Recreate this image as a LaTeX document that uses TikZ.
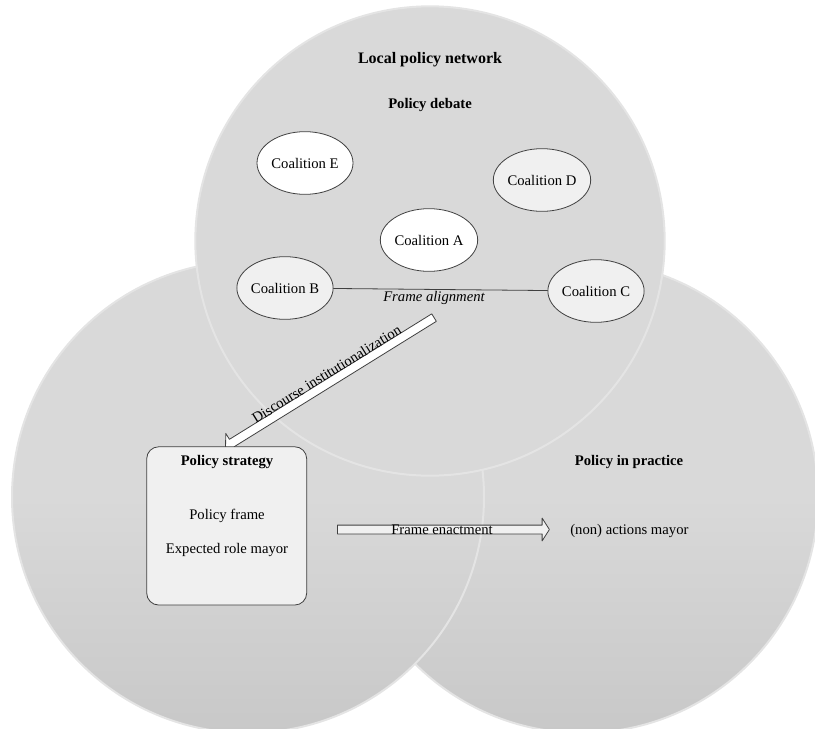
\documentclass[tikz,border=0pt]{standalone}
\usepackage{fontspec}
\setmainfont{Liberation Serif}
\usetikzlibrary{shapes.geometric,shapes.arrows}
\definecolor{venngray}{HTML}{D9D9D9}
\definecolor{vennrim}{HTML}{E4E4E4}
\definecolor{venndark}{HTML}{C8C8C8}
\definecolor{boxgray}{HTML}{F0F0F0}
\definecolor{edgegray}{HTML}{404040}

\begin{document}
\begin{tikzpicture}[line cap=round,line join=round,x=0.75pt,y=-0.75pt,
  every node/.style={font=\fontsize{11}{13}\selectfont},
  heading/.style={font=\fontsize{11}{13}\selectfont\bfseries},
  venn/.style={circle,minimum size=354pt,inner sep=0pt,draw=vennrim,line width=1.5pt},
  coalition/.style={ellipse,draw=edgegray,line width=0.6pt,minimum width=72pt,minimum height=47pt,inner sep=0pt},
  blockarrow/.style={single arrow,draw=edgegray,line width=0.6pt,inner sep=0pt,text height=3pt,text depth=3pt,
    single arrow head extend=5.25pt,single arrow tip angle=115}]
\useasboundingbox (0,0) rectangle (815,729);
\clip (0,0) rectangle (815,729);

% three fields
\node[venn,top color=venngray,bottom color=venndark,middle color=venngray] (practice) at (582,497) {};
\node[venn,top color=venngray,bottom color=venndark,middle color=venngray] (strategyfield) at (248,497) {};
\node[venn,fill=venngray,minimum size=352pt] (network) at (430,241) {};

\node[font=\fontsize{12}{14}\selectfont\bfseries] (nettitle) at (430,60) {Local policy network};
\node[heading] (debate) at (430,105) {Policy debate};

% coalitions
\node[coalition,fill=white] (coalE) at (305,163) {Coalition E};
\node[coalition,fill=boxgray] (coalD) at (542,180) {Coalition D};
\node[coalition,fill=white] (coalA) at (429,240) {Coalition A};
\node[coalition,fill=boxgray] (coalB) at (285,288) {Coalition B};
\node[coalition,fill=boxgray] (coalC) at (596,291) {Coalition C};
\draw[edgegray,line width=0.6pt] (coalB) -- (coalC);
\node[font=\fontsize{11}{13}\selectfont\itshape] (alignment) at (434,298) {Frame alignment};

% discourse institutionalization
\coordinate (dtail) at (435,317);
\coordinate (dtip) at (227,446);
\path (dtail) -- node[blockarrow,fill=white,sloped,allow upside down,minimum height=184pt] (discarrow) {} (dtip);
\path (dtip) -- node[sloped,above=1.5pt,inner sep=1pt] (disclabel) {Discourse institutionalization} (dtail);

% policy strategy
\node[draw=edgegray,fill=boxgray,line width=0.6pt,rounded corners=9pt,minimum width=120pt,minimum height=118.7pt] (strategy) at (226.7,525.9) {};
\node[heading] (strattitle) at (227,462) {Policy strategy};
\node (frame) at (227,515.5) {Policy frame};
\node (role) at (227,550) {Expected role mayor};

% frame enactment
\coordinate (etail) at (336,529.5);
\coordinate (etip) at (548,529.5);
\path (etail) -- node[blockarrow,fill=boxgray,sloped,minimum height=159pt] (enactarrow) {} (etip);
\node (enactlabel) at (enactarrow) {Frame enactment};

% policy in practice
\node[heading] (practitle) at (629,461.7) {Policy in practice};
\node (actions) at (629.4,531) {(non) actions mayor};
\end{tikzpicture}
\end{document}
